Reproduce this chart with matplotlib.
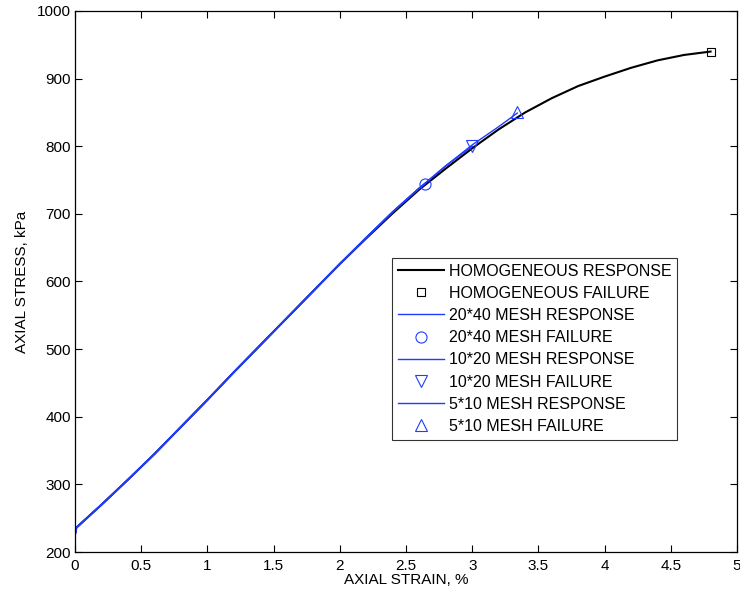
import matplotlib.pyplot as plt
import numpy as np

plt.rcParams['font.family'] = ['Liberation Sans', 'DejaVu Sans']

# homogeneous response (strain %, stress kPa)
strain_h = [0, 0.01, 0.2, 0.4, 0.6, 0.8, 1.0, 1.2, 1.4, 1.6, 1.8, 2.0, 2.2, 2.4,
            2.6, 2.8, 3.0, 3.2, 3.4, 3.6, 3.8, 4.0, 4.2, 4.4, 4.6, 4.8]
stress_h = [226, 236, 270, 307, 345, 385, 425, 466, 506, 546, 586, 626, 664, 701,
            736, 767, 797, 825, 850, 871, 889, 903, 916, 927, 935, 940]

# mesh responses
strain_20 = [0, 0.01, 0.2, 0.4, 0.6, 0.8, 1.0, 1.2, 1.4, 1.6, 1.8, 2.0, 2.2, 2.4, 2.6, 2.64]
stress_20 = [226, 236, 270, 307, 345, 385, 425, 466, 506, 546, 586, 626, 665, 703, 738, 744]
strain_10 = [0, 0.01, 0.2, 0.4, 0.6, 0.8, 1.0, 1.2, 1.4, 1.6, 1.8, 2.0, 2.2, 2.4, 2.6, 2.8, 3.0]
stress_10 = [226, 236, 270, 307, 345, 385, 425, 466, 506, 546, 586, 626, 665, 703, 738, 771, 800]
strain_5 = [0, 0.01, 0.2, 0.4, 0.6, 0.8, 1.0, 1.2, 1.4, 1.6, 1.8, 2.0, 2.2, 2.4, 2.6, 2.8,
            3.0, 3.2, 3.34]
stress_5 = [226, 236, 270, 307, 345, 385, 425, 466, 506, 546, 586, 626, 665, 703, 738, 771,
            802, 829, 849]

# failure points
fail_h = (4.80, 940)
fail_20 = (2.64, 744)
fail_10 = (3.00, 800)
fail_5 = (3.34, 850)

blue = '#1f3cff'

fig = plt.figure(figsize=(7.4, 5.94), dpi=100)
ax = fig.add_axes([0.1014, 0.0707, 0.8946, 0.9108])

ax.plot(strain_h, stress_h, 'k-', lw=1.5, label='HOMOGENEOUS RESPONSE')
ax.plot(*fail_h, 'ks', mfc='none', ms=6, mew=0.8, label='HOMOGENEOUS FAILURE')
ax.plot(strain_20, stress_20, '-', color=blue, lw=1.3, label='20*40 MESH RESPONSE')
ax.plot(*fail_20, 'o', color=blue, mfc='none', ms=8, mew=0.8, label='20*40 MESH FAILURE')
ax.plot(strain_10, stress_10, '-', color=blue, lw=1.1, label='10*20 MESH RESPONSE')
ax.plot(*fail_10, 'v', color=blue, mfc='none', ms=8, mew=0.8, label='10*20 MESH FAILURE')
ax.plot(strain_5, stress_5, '-', color=blue, lw=1.0, label='5*10 MESH RESPONSE')
ax.plot(*fail_5, '^', color=blue, mfc='none', ms=8, mew=0.8, label='5*10 MESH FAILURE')

ax.set_xlim(0, 5)
ax.set_ylim(200, 1000)
ax.set_xticks(np.arange(0, 5.01, 0.5))
ax.set_xticklabels(['0', '0.5', '1', '1.5', '2', '2.5', '3', '3.5', '4', '4.5', '5'])
ax.set_yticks(np.arange(200, 1001, 100))
ax.tick_params(direction='in', top=True, right=True, length=5, width=0.8,
               labelsize=11, pad=3)
ax.tick_params(axis='x', pad=5)
for s in ax.spines.values():
    s.set_linewidth(0.9)

ax.set_xlabel('AXIAL STRAIN, %', fontsize=11, labelpad=0)
ax.set_ylabel('AXIAL STRESS, kPa', fontsize=11, labelpad=6)

leg = ax.legend(loc='upper left', bbox_to_anchor=(0.479, 0.5434), borderaxespad=0,
                fontsize=11.5, frameon=True, fancybox=False, edgecolor='k',
                handlelength=2.9, handletextpad=0.3, labelspacing=0.45,
                borderpad=0.35, numpoints=1)
leg.get_frame().set_linewidth(0.8)
for line in leg.get_lines()[2::2]:
    line.set_linewidth(1.0)

fig.savefig('out.png', dpi=100)
